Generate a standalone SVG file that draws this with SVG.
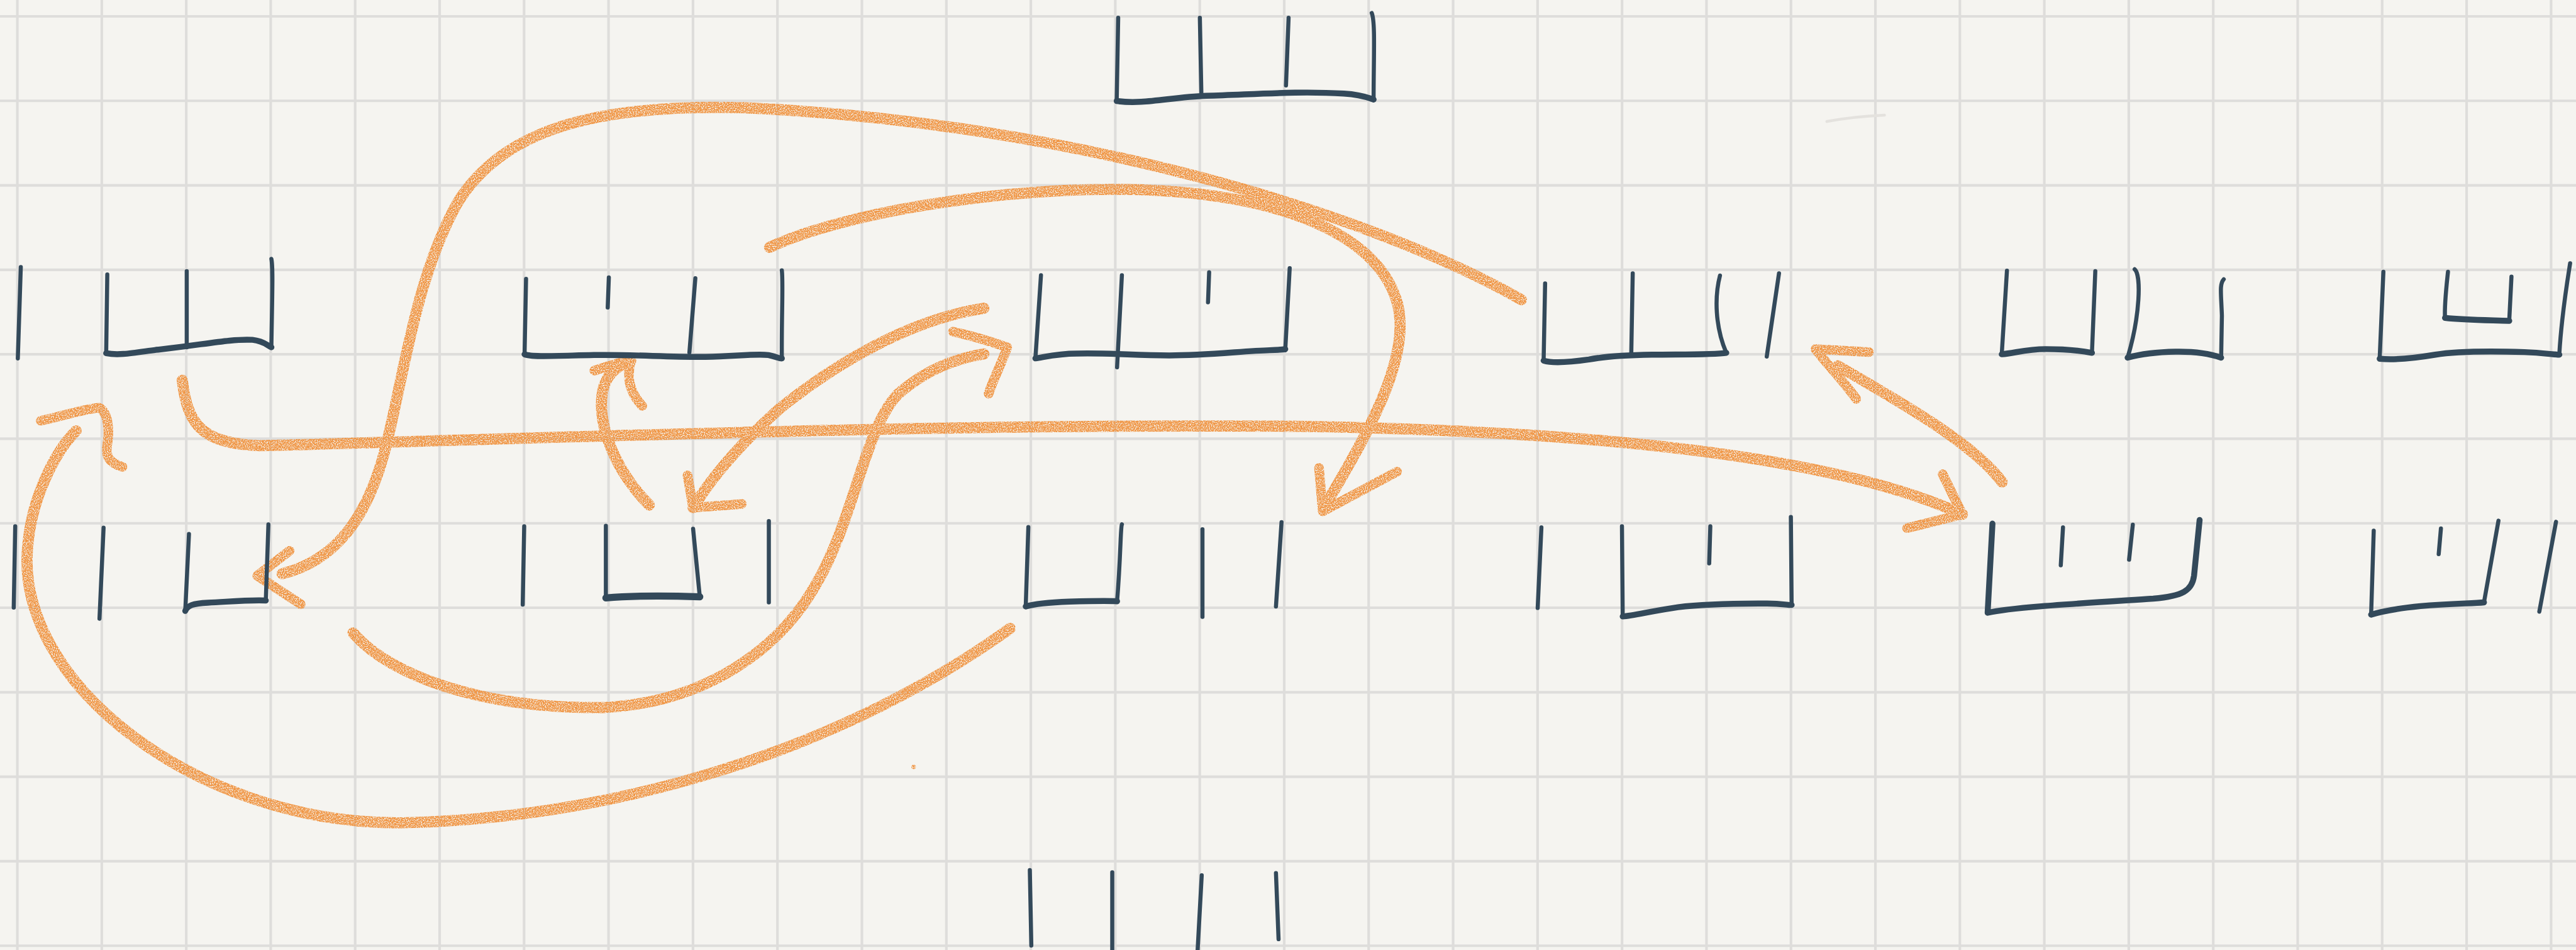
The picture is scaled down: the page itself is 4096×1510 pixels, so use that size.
<svg xmlns="http://www.w3.org/2000/svg" width="4096" height="1510" viewBox="0 0 4096 1510">
<style>
.grid{fill:none;stroke:#dedddb;stroke-width:7}
.ink{fill:none;stroke:#33495a;stroke-width:11;stroke-linecap:round;stroke-linejoin:round}
.bt{stroke-width:16}
.pen{fill:none;stroke:#f09645;stroke-width:30;stroke-linecap:round;stroke-linejoin:round}
.hd{stroke-width:26}
</style>
<defs>
<filter id="grain" x="-2%" y="-2%" width="104%" height="104%">
<feTurbulence type="fractalNoise" baseFrequency="0.35" numOctaves="2" seed="3" result="noise"/>
<feColorMatrix in="noise" type="matrix" values="0 0 0 0 0  0 0 0 0 0  0 0 0 0 0  0 0 0 4 -1.15" result="mask"/>
<feComposite in="SourceGraphic" in2="mask" operator="in"/>
</filter>
</defs>
<rect width="4096" height="1510" fill="#f5f4f0"/>
<g transform="scale(0.5903)">
<path class="grid" d="M46.7 0V2558M274.2 0V2558M501.7 0V2558M729.2 0V2558M956.7 0V2558M1184.2 0V2558M1411.7 0V2558M1639.2 0V2558M1866.7 0V2558M2094.2 0V2558M2321.7 0V2558M2549.2 0V2558M2776.7 0V2558M3004.2 0V2558M3231.7 0V2558M3459.2 0V2558M3686.7 0V2558M3914.2 0V2558M4141.7 0V2558M4369.2 0V2558M4596.7 0V2558M4824.2 0V2558M5051.7 0V2558M5279.2 0V2558M5506.7 0V2558M5734.2 0V2558M5961.7 0V2558M6189.2 0V2558M6416.7 0V2558M6644.2 0V2558M6871.7 0V2558"/>
<path class="grid" d="M0 44H6939M0 271.5H6939M0 499H6939M0 726.5H6939M0 954H6939M0 1181.5H6939M0 1409H6939M0 1636.5H6939M0 1864H6939M0 2091.5H6939M0 2319H6939M0 2546.5H6939"/>
<path d="M4921 327C4970 318 5030 312 5076 310" fill="none" stroke="#e4e2de" stroke-width="8" stroke-linecap="round"/>

<g id="connectors" filter="url(#grain)">
<path class="pen" d="M4098 807C3700 580 2900 330 2000 290C1600 280 1350 350 1230 550C1120 750 1090 1000 1040 1200C990 1400 900 1510 760 1545"/>
<path class="pen hd" d="M780 1483L693 1550L810 1627"/>
<path class="pen" d="M2073 666C2300 560 2800 490 3150 515C3500 540 3720 650 3765 820C3800 960 3690 1160 3570 1360"/>
<path class="pen hd" d="M3553 1260L3563 1377L3763 1270"/>
<path class="pen" d="M491 1024C505 1140 540 1195 700 1200C1500 1180 2500 1140 3500 1148C4300 1160 4950 1230 5286 1385"/>
<path class="pen hd" d="M5233 1277L5286 1385L5137 1422"/>
<path class="pen" d="M5393 1298C5320 1200 5150 1100 4950 985"/>
<path class="pen hd" d="M5034 948L4890 940C4925 985 4965 1025 5000 1074"/>
<path class="pen" d="M1749 1360C1660 1270 1610 1150 1622 1060C1630 1010 1660 985 1699 972"/>
<path class="pen hd" d="M1601 998C1640 985 1670 975 1699 970C1690 1010 1690 1050 1730 1093"/>
<path class="pen" d="M2650 830C2450 860 2250 980 2100 1100C2000 1190 1920 1280 1867 1367"/>
<path class="pen hd" d="M1852 1280L1867 1367L1998 1357"/>
<path class="pen" d="M951 1704C1050 1820 1300 1910 1630 1905C1900 1890 2100 1750 2200 1570C2300 1400 2330 1150 2420 1060C2500 990 2580 965 2650 953"/>
<path class="pen hd" d="M2567 893C2620 905 2670 920 2713 935C2700 975 2680 1010 2663 1060"/>
<path class="pen" d="M2721 1692C2250 2030 1650 2200 1100 2215C550 2230 20 1840 77 1450C88 1350 140 1225 205 1160"/>
<path class="pen hd" d="M110 1133C170 1120 230 1100 267 1098C290 1110 295 1150 290 1190C283 1225 290 1245 330 1257"/>
<circle cx="2461" cy="2065" r="6" fill="#f09645"/>
</g>

<g id="n-top" class="ink">
<path d="M3012 48L3008 270"/>
<path d="M3232 48L3236 249"/>
<path d="M3471 48L3464 230"/>
<path d="M3695 35C3705 60 3700 150 3700 268"/>
<path class="bt" d="M3008 272C3080 282 3150 262 3250 258C3400 253 3500 245 3620 252C3670 255 3690 265 3700 268"/>
</g>

<g id="n-a" class="ink">
<path d="M56 719L48 965"/>
<path d="M289 739L286 951"/>
<path d="M503 730L503 935"/>
<path d="M731 697C736 720 733 800 731 933"/>
<path class="bt" d="M286 951C320 958 360 950 420 942C550 928 620 912 680 915C710 918 720 930 731 935"/>
</g>

<g id="n-b" class="ink">
<path d="M1417 751L1413 954"/>
<path d="M1640 747L1637 828"/>
<path d="M1873 749L1857 949"/>
<path d="M2106 728C2110 760 2105 850 2106 965"/>
<path class="bt" d="M1413 954C1430 962 1500 958 1600 956C1700 954 1800 962 1900 961C1980 960 2030 952 2070 956C2090 960 2100 966 2106 965"/>
</g>

<g id="n-c" class="ink">
<path d="M2804 741L2789 965"/>
<path d="M3022 741L3009 989"/>
<path d="M3257 733L3254 814"/>
<path d="M3474 722L3462 943"/>
<path class="bt" d="M2789 965C2820 960 2850 952 2900 952C3000 950 3050 957 3150 957C3250 957 3350 945 3420 943C3450 942 3458 941 3462 940"/>
</g>

<g id="n-d" class="ink">
<path d="M4162 763L4158 971"/>
<path d="M4398 736L4394 956"/>
<path d="M4633 742C4618 800 4620 880 4650 950"/>
<path d="M4792 736L4759 960"/>
<path class="bt" d="M4158 971C4180 978 4230 975 4280 968C4330 958 4390 956 4450 955C4550 954 4620 955 4650 950"/>
</g>

<g id="n-e" class="ink">
<path d="M5406 729L5392 954"/>
<path d="M5644 730L5635 950"/>
<path class="bt" d="M5392 954C5430 950 5460 940 5510 940C5580 940 5610 945 5635 950"/>
<path d="M5750 725C5768 740 5765 850 5731 963"/>
<path d="M5990 752C5978 765 5983 790 5985 850L5983 963"/>
<path class="bt" d="M5731 963C5760 955 5800 948 5860 947C5920 946 5960 955 5983 963"/>
</g>

<g id="n-f" class="ink">
<path d="M6420 732L6410 966"/>
<path d="M6923 709C6915 760 6900 850 6894 952"/>
<path class="bt" d="M6410 966C6450 970 6500 965 6560 955C6620 945 6700 945 6800 948C6850 950 6880 955 6894 955"/>
<path d="M6594 732C6590 770 6584 820 6586 856"/>
<path d="M6765 745L6759 864"/>
<path class="bt" d="M6586 856C6640 862 6700 862 6759 864"/>
</g>

<g id="n-g" class="ink">
<path d="M41 1417L37 1636"/>
<path d="M279 1421L268 1666"/>
<path d="M509 1438L499 1645"/>
<path d="M723 1412L716 1617"/>
<path class="bt" d="M499 1645C505 1630 520 1625 560 1623C620 1620 670 1615 716 1617"/>
</g>

<g id="n-h" class="ink">
<path d="M1412 1417L1408 1628"/>
<path d="M1632 1416L1632 1610"/>
<path d="M1867 1424L1885 1607"/>
<path class="bt" style="stroke-width:19" d="M1632 1610C1700 1604 1800 1604 1885 1607"/>
<path d="M2071 1403L2071 1622"/>
</g>

<g id="n-i" class="ink">
<path d="M2770 1419L2763 1633"/>
<path d="M3022 1412C3018 1420 3019 1500 3009 1619"/>
<path class="bt" d="M2763 1633C2790 1625 2830 1622 2880 1620C2950 1618 2990 1618 3009 1619"/>
<path d="M3239 1425L3239 1661"/>
<path d="M3452 1406L3437 1633"/>
</g>

<g id="n-j" class="ink">
<path d="M4152 1420L4142 1637"/>
<path d="M4369 1417L4371 1660"/>
<path d="M4607 1417L4604 1517"/>
<path d="M4824 1392L4826 1629"/>
<path class="bt" d="M4371 1660C4400 1658 4450 1645 4520 1635C4600 1625 4700 1625 4760 1625C4800 1625 4820 1630 4826 1629"/>
</g>

<g id="n-k" class="ink">
<path d="M5557 1420L5551 1522"/>
<path d="M5745 1413L5735 1507"/>
<path class="bt" d="M5367 1410L5354 1650C5420 1635 5600 1625 5800 1612C5880 1605 5905 1590 5910 1550L5925 1400"/>
</g>

<g id="n-l" class="ink">
<path d="M6394 1429L6387 1655"/>
<path d="M6575 1423L6569 1492"/>
<path d="M6730 1402L6691 1622"/>
<path class="bt" d="M6387 1655C6420 1645 6460 1638 6520 1632C6600 1625 6660 1625 6691 1622"/>
<path d="M6885 1405L6840 1647"/>
</g>

<g id="n-bottom" class="ink">
<path d="M2774 2343L2778 2546"/>
<path d="M2996 2349L2996 2558"/>
<path d="M3237 2357L3226 2558"/>
<path d="M3437 2351L3444 2529"/>
</g>
</g>
</svg>
